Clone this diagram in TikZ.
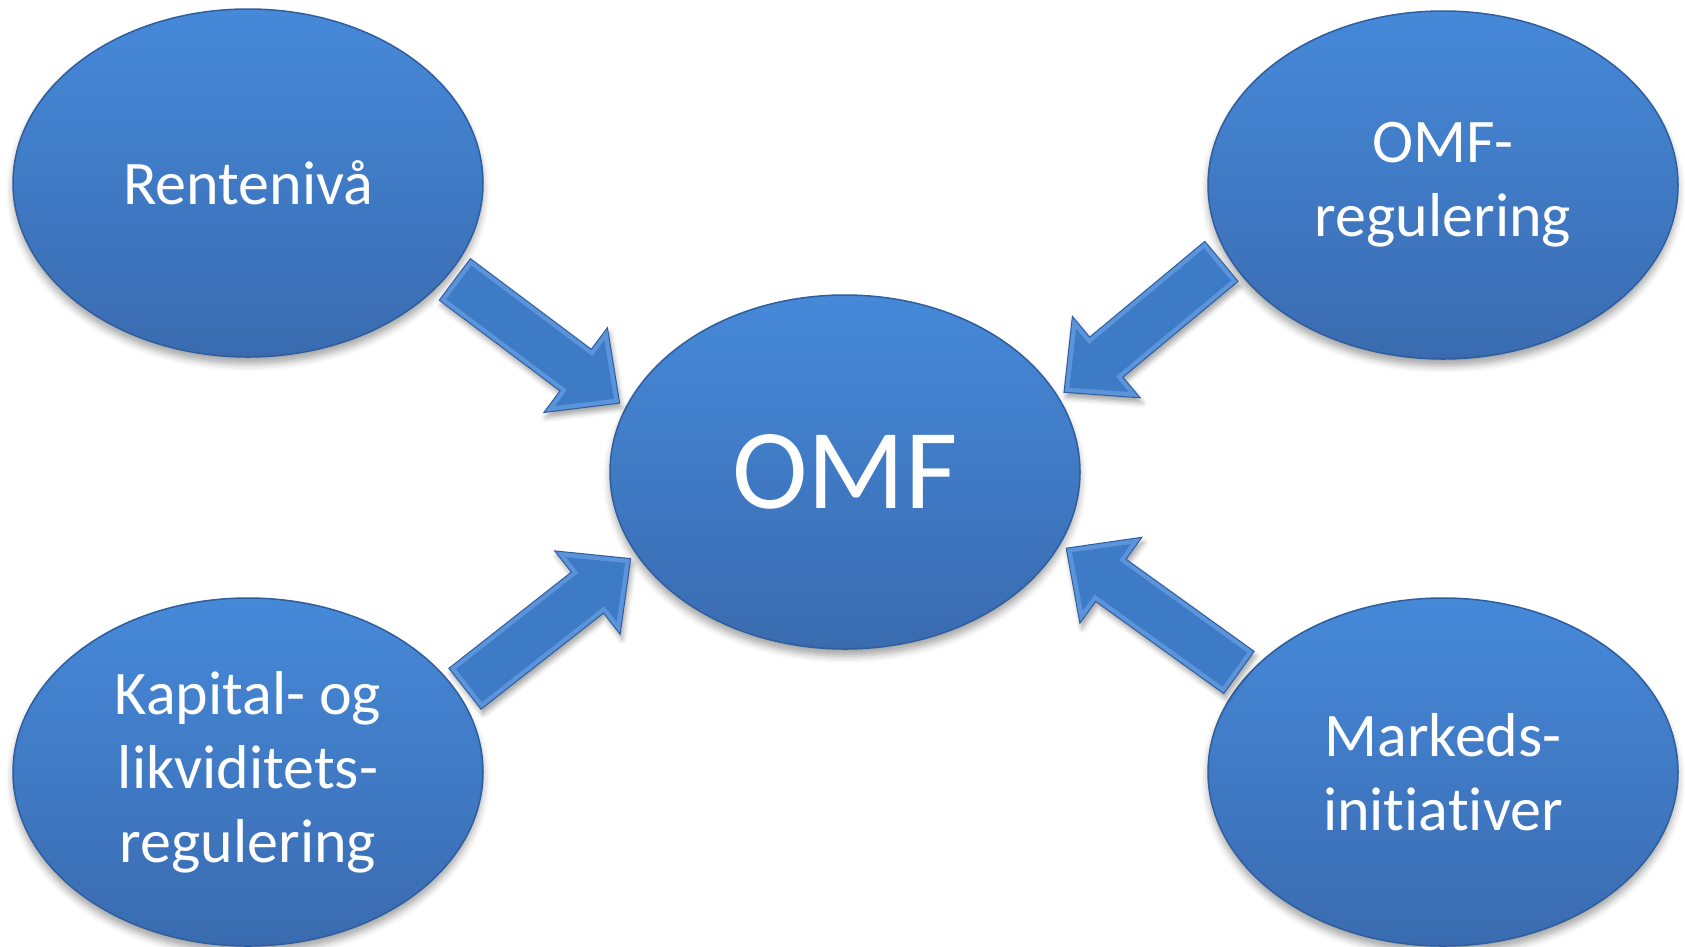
\documentclass[tikz,border=0pt]{standalone}
\usepackage{fontspec}
\setmainfont{Carlito}[Ligatures=NoCommon]
\usetikzlibrary{calc,shapes.geometric,shadows.blur}
\definecolor{bluetop}{HTML}{4689D9}
\definecolor{bluebot}{HTML}{3A6BB0}
\definecolor{blueedge}{HTML}{2F5E9C}
\definecolor{arrowblue}{HTML}{3E7BC6}
\definecolor{arrowlight}{HTML}{5B94DB}
\tikzset{
  bubble/.style={ellipse, minimum width=470pt, minimum height=348pt, inner sep=0pt, outer sep=0pt,
    top color=bluetop, bottom color=bluebot, draw=blueedge, line width=1.5pt,
    text=white, font=\fontsize{62}{74}\selectfont, align=center,
    blur shadow={shadow xshift=0pt, shadow yshift=-7pt, shadow blur radius=7pt, shadow opacity=35}},
  blockarrow/.style={fill=arrowlight, draw=blueedge, line width=1pt, line join=miter,
    blur shadow={shadow xshift=2pt, shadow yshift=-5pt, shadow blur radius=5pt, shadow opacity=35}},
  arrowcore/.style={fill=arrowblue},
}
\newcommand\ArrowPoly[6]{% style, start, end, head length, shaft half width, head half width
  \coordinate (ba-j) at ($(#3)!#4!(#2)$);
  \path[#1] ($(#2)!#5!90:(#3)$) -- ($(ba-j)!#5!90:(#3)$) -- ($(ba-j)!#6!90:(#3)$) -- (#3)
     -- ($(ba-j)!#6!-90:(#3)$) -- ($(ba-j)!#5!-90:(#3)$) -- ($(#2)!#5!-90:(#3)$) -- cycle;
}
\newcommand\BlockArrow[2]{%
  \coordinate (ba-s) at (#1);
  \coordinate (ba-e) at (#2);
  \coordinate (ba-s2) at ($(ba-s)!5pt!(ba-e)$);
  \coordinate (ba-e2) at ($(ba-e)!7pt!(ba-s)$);
  \ArrowPoly{blockarrow}{ba-s}{ba-e}{55pt}{26pt}{53pt}
  \ArrowPoly{arrowcore}{ba-s2}{ba-e2}{43pt}{21pt}{41pt}
}
\begin{document}
\begin{tikzpicture}[x=1pt,y=-1pt]
\useasboundingbox (0,0) rectangle (1685,946);
\node[bubble] (tl) at (248,183) {Rentenivå};
\node[bubble] (tr) at (1443,185) {OMF-\\regulering};
\node[bubble] (bl) at (248,772) {Kapital- og\\likviditets-\\regulering};
\node[bubble] (br) at (1443,772) {Markeds-\\initiativer};
\node[bubble, minimum height=354pt, font=\fontsize{114}{120}\selectfont] (omf) at (845,472) {OMF};
\BlockArrow{$(tl.center)!1.04!(tl.-25)$}{$(omf.center)!1.035!(omf.163)$}
\BlockArrow{$(tr.center)!1.04!(tr.-161.6)$}{$(omf.center)!1.035!(omf.20.4)$}
\BlockArrow{$(bl.center)!1.04!(bl.21.1)$}{$(omf.center)!1.035!(omf.-158.9)$}
\BlockArrow{$(br.center)!1.04!(br.154)$}{$(omf.center)!1.035!(omf.-19.5)$}
\end{tikzpicture}
\end{document}
